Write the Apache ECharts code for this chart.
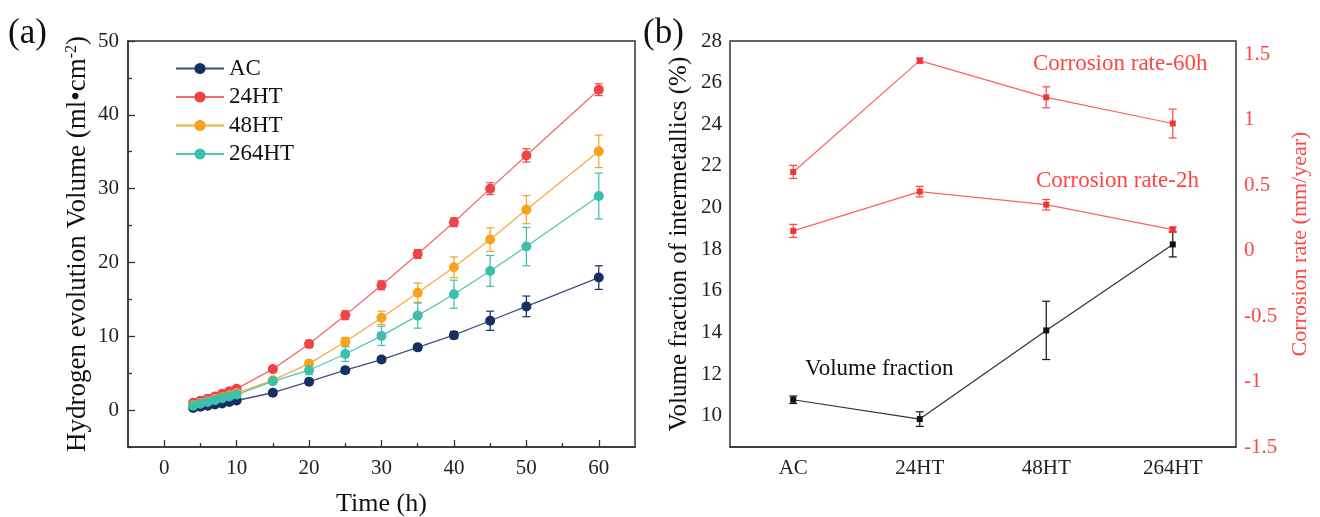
<!DOCTYPE html>
<html>
<head>
<meta charset="utf-8">
<script src="https://cdn.jsdelivr.net/npm/echarts@6/dist/echarts.min.js"></script>
<style>html,body{margin:0;padding:0;background:#fff;}#c{width:1320px;height:517px;}</style>
</head>
<body>
<div id="c"></div>
<script>
// ---- Panel (a) data ----
const times = [4,5,6,7,8,9,10,15,20,25,30,35,40,45,50,60];
const acVol   = [0.3,0.45,0.6,0.75,0.9,1.1,1.3,2.35,3.85,5.4,6.85,8.5,10.15,12.1,14.05,17.95];
const acErr   = [0.15,0.15,0.15,0.15,0.15,0.2,0.2,0.3,0.4,0.4,0.4,0.4,0.5,1.3,1.4,1.6];
const ht24Vol = [1.0,1.25,1.55,1.85,2.2,2.55,2.9,5.55,8.95,12.85,16.9,21.15,25.45,30.0,34.5,43.4];
const ht24Err = [0.2,0.2,0.2,0.2,0.25,0.25,0.3,0.3,0.5,0.6,0.6,0.6,0.6,0.8,0.9,0.8];
const ht48Vol = [0.7,0.95,1.2,1.5,1.75,2.0,2.3,4.05,6.3,9.25,12.5,15.9,19.35,23.1,27.15,35.05];
const ht48Err = [0.15,0.15,0.2,0.2,0.2,0.2,0.25,0.3,0.4,0.6,0.9,1.3,1.4,1.6,1.9,2.2];
const ht264Vol= [0.6,0.85,1.1,1.35,1.6,1.85,2.1,3.9,5.4,7.6,10.05,12.8,15.7,18.85,22.15,29.0];
const ht264Err= [0.15,0.15,0.2,0.2,0.2,0.2,0.25,0.3,0.6,1.0,1.3,1.7,1.9,2.1,2.6,3.1];
const xTicksA = [0,10,20,30,40,50,60];
const xMinorA = [5,15,25,35,45,55];
const yTicksA = [0,10,20,30,40,50];
const yMinorA = [-5,5,15,25,35,45];

// ---- Panel (b) data ----
const samples = ['AC','24HT','48HT','264HT'];
const volFrac    = [10.77, 9.84, 14.1, 18.23];
const volFracErr = [0.18, 0.35, 1.4, 0.6];
const rate60     = [0.6, 1.45, 1.17, 0.97];
const rate60Err  = [0.05, 0.02, 0.08, 0.11];
const rate2      = [0.15, 0.45, 0.35, 0.16];
const rate2Err   = [0.05, 0.04, 0.04, 0.02];
const yTicksBL = [10,12,14,16,18,20,22,24,26,28];
const yMinorBL = [9,11,13,15,17,19,21,23,25,27];
const yTicksBR = [-1.5,-1,-0.5,0,0.5,1,1.5];
const yMinorBR = [-1.25,-0.75,-0.25,0.25,0.75,1.25];

const FONT = 'Liberation Serif';
const RED = '#ff4545';
const AXC = '#333';

function pairs(xs, ys){ return xs.map((x,i)=>[x, ys[i]]); }
function triples(xs, ys, es){ return xs.map((x,i)=>[x, ys[i], es[i]]); }

function errBar(color, cap){
  return function(params, api){
    const x = api.value(0), y = api.value(1), e = api.value(2);
    const t = api.coord([x, y+e]);
    const b = api.coord([x, y-e]);
    const s = {stroke: color, lineWidth: 1.2};
    return {type:'group', children:[
      {type:'line', shape:{x1:t[0], y1:t[1], x2:b[0], y2:b[1]}, style:s},
      {type:'line', shape:{x1:t[0]-cap, y1:t[1], x2:t[0]+cap, y2:t[1]}, style:s},
      {type:'line', shape:{x1:b[0]-cap, y1:b[1], x2:b[0]+cap, y2:b[1]}, style:s}
    ]};
  };
}

const serA = [
  {name:'AC', color:'#16305f', line:'#3d5280', v:acVol, e:acErr},
  {name:'24HT', color:'#ee4448', line:'#f26b6e', v:ht24Vol, e:ht24Err},
  {name:'48HT', color:'#f7a31e', line:'#f7ad3a', v:ht48Vol, e:ht48Err},
  {name:'264HT', color:'#3dbfae', line:'#52c6b6', v:ht264Vol, e:ht264Err}
];

const series = [];
serA.forEach(s=>{
  series.push({type:'custom', name:s.name+'-err', xAxisIndex:0, yAxisIndex:0,
    renderItem: errBar(s.color, 4), data: triples(times, s.v, s.e), z:2, silent:true});
});
serA.forEach(s=>{
  series.push({type:'line', name:s.name, xAxisIndex:0, yAxisIndex:0,
    data: pairs(times, s.v), symbol:'circle', symbolSize:10,
    itemStyle:{color:s.color}, lineStyle:{color:s.line, width:1.3}, z:3});
});

const idx = samples.map((_,i)=>i);
series.push({type:'custom', name:'vf-err', xAxisIndex:2, yAxisIndex:2, renderItem: errBar('#111', 4), data: triples(idx, volFrac, volFracErr), silent:true});
series.push({type:'line', name:'Volume fraction', xAxisIndex:2, yAxisIndex:2, data: volFrac, symbol:'rect', symbolSize:6,
  itemStyle:{color:'#111'}, lineStyle:{color:'#333', width:1.2}});
series.push({type:'custom', name:'r60-err', xAxisIndex:2, yAxisIndex:3, renderItem: errBar(RED, 4), data: triples(idx, rate60, rate60Err), silent:true});
series.push({type:'line', name:'Corrosion rate-60h', xAxisIndex:2, yAxisIndex:3, data: rate60, symbol:'rect', symbolSize:6,
  itemStyle:{color:'#f03535'}, lineStyle:{color:'#ff6060', width:1.2}});
series.push({type:'custom', name:'r2-err', xAxisIndex:2, yAxisIndex:3, renderItem: errBar(RED, 4), data: triples(idx, rate2, rate2Err), silent:true});
series.push({type:'line', name:'Corrosion rate-2h', xAxisIndex:2, yAxisIndex:3, data: rate2, symbol:'rect', symbolSize:6,
  itemStyle:{color:'#f03535'}, lineStyle:{color:'#ff6060', width:1.2}});

const lbl = {fontFamily:FONT, fontSize:21, color:'#222'};

const option = {
  animation:false,
  backgroundColor:'#fff',
  textStyle:{fontFamily:FONT},
  grid:[
    {left:128, right:685, top:41, bottom:70, show:true, borderColor:AXC, borderWidth:1.5, backgroundColor:'transparent', containLabel:false, outerBoundsMode:'none'},
    {left:730, right:84, top:41, bottom:70, show:true, borderColor:AXC, borderWidth:1.5, backgroundColor:'transparent', containLabel:false, outerBoundsMode:'none'}
  ],
  legend:{
    data: serA.map(s=>s.name), orient:'vertical', left:170, top:52,
    itemWidth:48, itemHeight:14, itemGap:5.5,
    textStyle:{fontFamily:FONT, fontSize:23, color:'#111'}
  },
  xAxis:[
    {type:'value', gridIndex:0, min:-5, max:65, position:'bottom',
      name:'Time (h)', nameLocation:'middle', nameGap:44,
      nameTextStyle:{fontFamily:FONT, fontSize:26, color:'#111'},
      axisLine:{onZero:false, lineStyle:{color:AXC, width:1.5}},
      axisTick:{inside:true, length:7, customValues:xTicksA, lineStyle:{color:AXC, width:1.3}},
      axisLabel:{customValues:xTicksA, margin:11, ...lbl},
      splitLine:{show:false}},
    {type:'value', gridIndex:0, min:-5, max:65, position:'bottom',
      axisLine:{show:false, onZero:false},
      axisTick:{inside:true, length:4, customValues:xMinorA, lineStyle:{color:AXC, width:1.3}},
      axisLabel:{show:false}, splitLine:{show:false}},
    {type:'category', gridIndex:1, data:samples, boundaryGap:true, position:'bottom',
      axisLine:{onZero:false, lineStyle:{color:AXC, width:1.5}},
      axisTick:{inside:true, length:7, alignWithLabel:true, lineStyle:{color:AXC, width:1.3}},
      axisLabel:{margin:11, ...lbl},
      splitLine:{show:false}}
  ],
  yAxis:[
    {type:'value', gridIndex:0, min:-5, max:50, position:'left',
      name:'Hydrogen evolution Volume (ml\u2022cm{sup|-2})', nameLocation:'middle', nameGap:37,
      nameTextStyle:{fontFamily:FONT, fontSize:27, color:'#111',
        rich:{sup:{fontFamily:FONT, fontSize:16, color:'#111', verticalAlign:'top', lineHeight:16}}},
      axisLine:{onZero:false, lineStyle:{color:AXC, width:1.5}},
      axisTick:{inside:true, length:7, customValues:yTicksA, lineStyle:{color:AXC, width:1.3}},
      axisLabel:{customValues:yTicksA, margin:9, ...lbl},
      splitLine:{show:false}},
    {type:'value', gridIndex:0, min:-5, max:50, position:'left',
      axisLine:{show:false, onZero:false},
      axisTick:{inside:true, length:4, customValues:yMinorA, lineStyle:{color:AXC, width:1.3}},
      axisLabel:{show:false}, splitLine:{show:false}},
    {type:'value', gridIndex:1, min:8.5, max:28, position:'left',
      name:'Volume fraction of intermetallics (%)', nameLocation:'middle', nameGap:38,
      nameTextStyle:{fontFamily:FONT, fontSize:25, color:'#111'},
      axisLine:{onZero:false, lineStyle:{color:AXC, width:1.5}},
      axisTick:{inside:true, length:7, customValues:yTicksBL.concat(yMinorBL), lineStyle:{color:AXC, width:1.3}},
      axisLabel:{customValues:yTicksBL, margin:8, ...lbl},
      splitLine:{show:false}},
    {type:'value', gridIndex:1, min:-1.5, max:1.6, position:'right',
      name:'Corrosion rate (mm/year)', nameLocation:'middle', nameGap:53,
      nameTextStyle:{fontFamily:FONT, fontSize:22, color:RED},
      axisLine:{onZero:false, lineStyle:{color:RED, width:1.5}},
      axisTick:{inside:true, length:6, customValues:yTicksBR.concat(yMinorBR), lineStyle:{color:RED, width:1.3}},
      axisLabel:{customValues:yTicksBR, margin:8, fontFamily:FONT, fontSize:21, color:RED},
      splitLine:{show:false}}
  ],
  graphic:[
    {type:'text', left:8, top:16, style:{text:'(a)', font:'35px "Liberation Serif"', fill:'#111'}},
    {type:'text', left:643, top:16, style:{text:'(b)', font:'35px "Liberation Serif"', fill:'#111'}},
    {type:'text', left:1033, top:52, style:{text:'Corrosion rate-60h', font:'23px "Liberation Serif"', fill:RED}},
    {type:'text', left:1036, top:169, style:{text:'Corrosion rate-2h', font:'23px "Liberation Serif"', fill:RED}},
    {type:'text', left:805, top:357, style:{text:'Volume fraction', font:'23px "Liberation Serif"', fill:'#111'}}
  ],
  series: series
};

const chart = echarts.init(document.getElementById('c'), null, {renderer:'canvas'});
chart.setOption(option);
</script>
</body>
</html>
